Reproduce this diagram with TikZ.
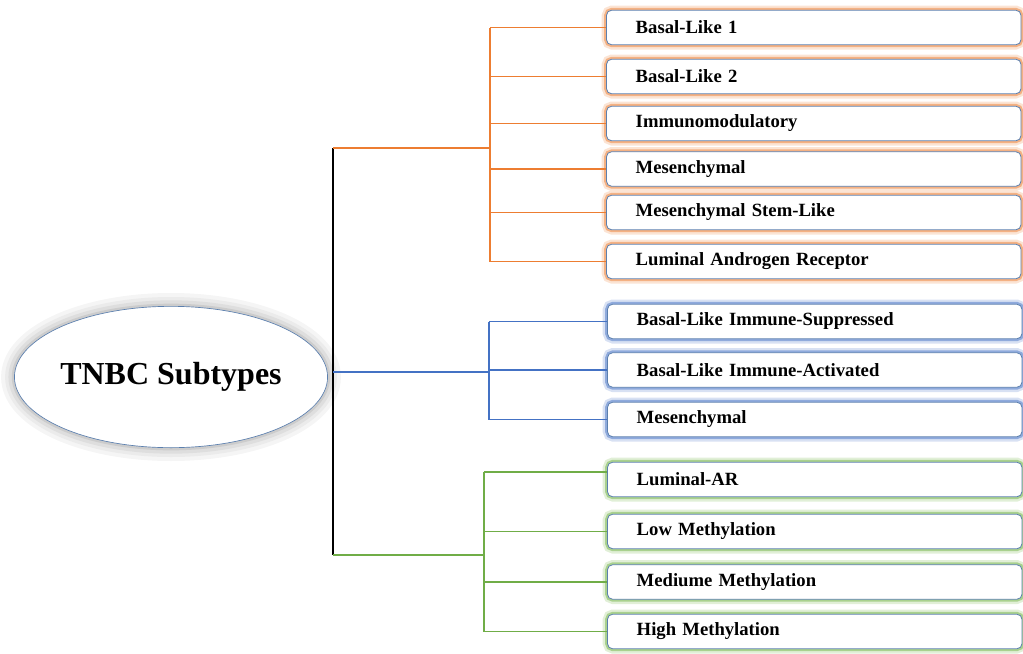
\documentclass[tikz,border=0pt]{standalone}
\usepackage{fontspec}
\setmainfont{Liberation Serif}
\usepackage{xcolor}
\usetikzlibrary{positioning,shapes.geometric}
\definecolor{orng}{HTML}{ED7D31}
\definecolor{blu}{HTML}{4472C4}
\definecolor{grn}{HTML}{70AD47}
\definecolor{boxline}{HTML}{5B7FAE}
\definecolor{glowO}{HTML}{F4B183}
\definecolor{glowB}{HTML}{8FAADC}
\definecolor{glowG}{HTML}{A9D18E}

\begin{document}
\begin{tikzpicture}[x=0.75pt,y=-0.75pt,every node/.style={font=\bfseries\fontsize{14}{16}\selectfont},
  bx/.style={draw=boxline,line width=0.6pt,fill=white,rounded corners=4pt,anchor=west,text width=267pt,inner xsep=22pt,minimum height=26pt,align=left},
  og/.style={bx,preaction={draw=glowO!35,line width=7pt},preaction={draw=glowO,line width=3.5pt}},
  bg/.style={bx,preaction={draw=glowB!35,line width=7pt},preaction={draw=glowB,line width=3.5pt}},
  gg/.style={bx,preaction={draw=glowG!35,line width=7pt},preaction={draw=glowG,line width=3.5pt}},
  oline/.style={draw=orng,line width=1.1pt},
  bline/.style={draw=blu,line width=1.1pt},
  gline/.style={draw=grn,line width=1.1pt}]
\useasboundingbox (0,0) rectangle (1023,653);
% root
\node[ellipse,draw=boxline,line width=0.5pt,fill=white,inner sep=0pt,minimum width=231pt,minimum height=106pt,
  preaction={draw=black!4,line width=20pt},preaction={draw=black!8,line width=14pt},
  preaction={draw=black!13,line width=9pt},preaction={draw=black!20,line width=4pt},
  font=\bfseries\fontsize{24}{28}\selectfont] (tnbc) at (171,377) {TNBC Subtypes};
% orange group
\node[og] (o1) at (606,27.5) {Basal-Like 1};
\node[og] (o2) at (606,76.5) {Basal-Like 2};
\node[og] (o3) at (606,123.5) {Immunomodulatory};
\node[og] (o4) at (606,169) {Mesenchymal};
\node[og] (o5) at (606,212.5) {Mesenchymal Stem-Like};
\node[og] (o6) at (606,261.5) {Luminal Androgen Receptor};
% blue group
\node[bg] (b1) at (607,321.5) {Basal-Like Immune-Suppressed};
\node[bg] (b2) at (607,370) {Basal-Like Immune-Activated};
\node[bg] (b3) at (607,419.5) {Mesenchymal};
% green group
\node[gg] (g1) at (607,479.5) {Luminal-AR};
\node[gg] (g2) at (607,531.5) {Low Methylation};
\node[gg] (g3) at (607,582) {Mediume Methylation};
\node[gg] (g4) at (607,631.5) {High Methylation};
% trunk and buses
\coordinate (ttop) at (333,148);
\coordinate (tmid) at (333,372);
\coordinate (tbot) at (333,555);
\coordinate (otop) at (490,27.5);
\coordinate (obot) at (490,261.5);
\coordinate (btop) at (489,321.5);
\coordinate (bbot) at (489,419.5);
\coordinate (gtop) at (484,472);
\coordinate (gbot) at (484,631.5);
\draw[black,line width=1.4pt] (ttop)--(tbot);
\draw[oline] (ttop)--(otop|-ttop);
\draw[bline] (tmid)--(btop|-tmid);
\draw[gline] (tbot)--(gtop|-tbot);
\draw[oline] (otop)--(obot);
\draw[bline] (btop)--(bbot);
\draw[gline] (gtop)--(gbot);
\draw[oline] (otop)--(o1.west);
\draw[oline] (otop|-o2.west)--(o2.west);
\draw[oline] (otop|-o3.west)--(o3.west);
\draw[oline] (otop|-o4.west)--(o4.west);
\draw[oline] (otop|-o5.west)--(o5.west);
\draw[oline] (obot)--(o6.west);
\draw[bline] (btop)--(b1.west);
\draw[bline] (btop|-b2.west)--(b2.west);
\draw[bline] (bbot)--(b3.west);
\draw[gline] (gtop)--(g1.west|-gtop);
\draw[gline] (gtop|-g2.west)--(g2.west);
\draw[gline] (gtop|-g3.west)--(g3.west);
\draw[gline] (gbot)--(g4.west);
\end{tikzpicture}
\end{document}
